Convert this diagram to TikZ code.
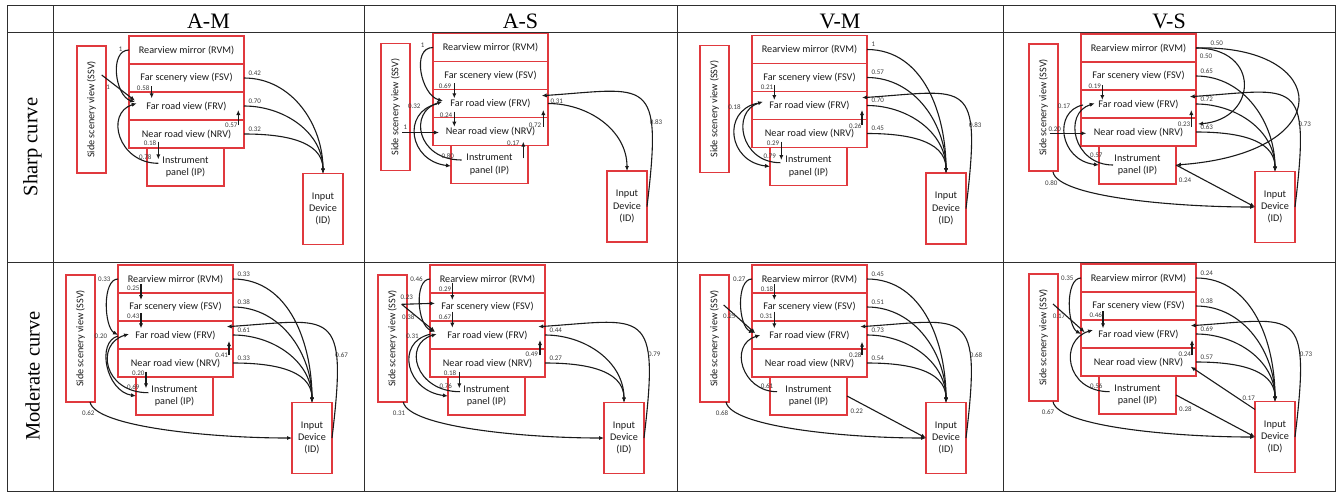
\documentclass[tikz,border=0pt]{standalone}
\usepackage{fontspec}
\setmainfont{Liberation Serif}
\newfontfamily\boxfont{Carlito}
\usepackage{graphicx}
\usetikzlibrary{arrows.meta,positioning,calc}
\definecolor{Ink}{HTML}{1A1A1A}
\definecolor{Rule}{HTML}{2E2E2E}
\definecolor{BoxRed}{HTML}{E0393E}

\tikzset{
  view/.style={draw=BoxRed,line width=1.2pt,minimum width=115pt,minimum height=28pt,
    inner sep=0pt,outer sep=0pt,text=Ink,font=\boxfont\fontsize{10.2}{12.2}\selectfont},
  ipbox/.style={view,minimum width=77pt,minimum height=38pt,align=center},
  idbox/.style={view,minimum width=40pt,minimum height=71pt,align=center},
  ssvbox/.style={view,minimum width=29pt,minimum height=127pt},
  trans/.style={Ink,line width=1.1pt,-{Latex[length=5pt,width=4.2pt]}},
  prob/.style={font=\boxfont\fontsize{7}{8}\selectfont,text=Ink!85,inner sep=0pt},
  prob at/.style 2 args={prob,at start,xshift=#1pt,yshift=#2pt},
  prob end/.style 2 args={prob,at end,xshift=#1pt,yshift=#2pt},
  out lbl/.style={prob at={4}{5},anchor=west},
  rule/.style={Rule,line width=1pt},
  colhead/.style={font=\fontsize{22}{24}\selectfont,anchor=base},
  rowhead/.style={font=\fontsize{20.5}{22}\selectfont,rotate=90},
}

\newcommand{\viewpanel}[3]{%
  \node[view,anchor=north west] (#1-rvm) at (#2,#3) {Rearview mirror (RVM)};
  \node[view,below=0pt of #1-rvm] (#1-fsv) {Far scenery view (FSV)};
  \node[view,below=0pt of #1-fsv] (#1-frv) {Far road view (FRV)};
  \node[view,below=0pt of #1-frv] (#1-nrv) {Near road view (NRV)};
  \node[ipbox,anchor=north west] (#1-ip) at ([xshift=18pt]#1-nrv.south west) {Instrument\\panel (IP)};
  \node[ssvbox] (#1-ssv) at ([xshift=-37.5pt,yshift=-73.5pt]#1-rvm.north west) {\rotatebox{90}{Side scenery view (SSV)}};
  \node[idbox] (#1-id) at ([xshift=194pt,yshift=-173pt]#1-rvm.north west) {Input\\Device\\(ID)};
}

\begin{document}
\begin{tikzpicture}[x=1pt,y=-1pt]
\useasboundingbox (0,0) rectangle (1338,493);
\draw[rule] (7,5) rectangle (1335,491);
\draw[rule] (7,32) -- (1335,32);
\draw[rule] (7,262) -- (1335,262);
\draw[rule] (53,5) -- (53,491);
\draw[rule] (364,5) -- (364,491);
\draw[rule] (677,5) -- (677,491);
\draw[rule] (1003,5) -- (1003,491);
\node[colhead] (head-am) at (208.5,28.3) {A-M};
\node[colhead] (head-as) at (520.5,28.3) {A-S};
\node[colhead] (head-vm) at (840,28.3) {V-M};
\node[colhead] (head-vs) at (1169,28.3) {V-S};
\node[rowhead] (row-sharp) at (32.5,147) {Sharp curve};
\node[rowhead] (row-moderate) at (32.5,376) {Moderate curve};

\viewpanel{sAM}{129}{36}
\draw[trans] (sAM-rvm.west) .. controls +(-20,0) and +(-20,-6) .. ($(sAM-frv.west)+(6,-4)$) node[prob at={-6}{1},anchor=east] {1};
\draw[trans] ($(sAM-ssv.east)+(-4.3,-34.5)$) -- ($(sAM-frv.west)+(6,-5.3)$) node[prob at={6.5}{-12}] {1};
\draw[trans] ($(sAM-fsv.south west)+(22.7,-6)$) -- ($(sAM-frv.north west)+(22.7,6.3)$) node[prob at={-8.5}{-2.5}] {0.58};
\draw[trans] ($(sAM-ip.west)+(11.3,-3.7)$) .. controls +(-40,0) and +(-32,10) .. ($(sAM-frv.west)+(7.7,-2.7)$) node[prob at={-13}{6.5}] {0.78};
\draw[trans] ($(sAM-nrv.south west)+(29.3,-6.3)$) -- ($(sAM-ip.north west)+(11.3,11.3)$) node[prob at={-8.3}{-1.6}] {0.18};
\draw[trans] ($(sAM-nrv.north east)+(-5.7,5)$) -- ($(sAM-frv.south east)+(-5.7,-10)$) node[prob at={-7}{-0.5}] {0.57};
\draw[trans] (sAM-fsv.east) to[out=0,in=90] node[out lbl] {0.42} (sAM-id.north);
\draw[trans] (sAM-frv.east) to[out=0,in=90] node[out lbl] {0.70} (sAM-id.north);
\draw[trans] (sAM-nrv.east) to[out=0,in=90] node[out lbl] {0.32} (sAM-id.north);

\viewpanel{sAS}{433}{33.5}
\draw[trans] (sAS-rvm.west) .. controls +(-22,0) and +(-22,-6) .. ($(sAS-frv.west)+(10,-2.5)$) node[prob at={-8}{1.8},anchor=east] {1};
\draw[trans] ($(sAS-ssv.east)+(-7.7,25.5)$) -- ($(sAS-nrv.west)+(6,1)$) node[prob at={3}{5.5}] {1};
\draw[trans] ($(sAS-fsv.south west)+(21.3,-6.2)$) -- ($(sAS-frv.north west)+(21.3,8.8)$) node[prob at={-9.3}{-2.7}] {0.69};
\draw[trans] ($(sAS-frv.south west)+(21.3,-5.8)$) -- ($(sAS-nrv.north west)+(21.3,9.2)$) node[prob at={-8.3}{-3.3}] {0.24};
\draw[trans] ($(sAS-ip.west)+(10.7,-4.5)$) .. controls +(-45,0) and +(-34,10) .. ($(sAS-frv.west)+(9.3,-1.8)$) node[prob at={-14}{4}] {0.80};
\draw[trans] ($(sAS-frv.west)+(3.7,0.5)$) .. controls +(-35,8) and +(-42,-5) .. ($(sAS-ip.west)+(0,1.5)$) node[prob at={-15.7}{-2},anchor=east] {0.32};
\draw[trans] ($(sAS-nrv.north west)+(110.3,9.2)$) -- ($(sAS-frv.south west)+(110.3,-7.5)$) node[prob at={-8.3}{1.7}] {0.72};
\draw[trans] ($(sAS-ip.north west)+(72.3,12.8)$) -- ($(sAS-nrv.south west)+(90.3,-3.8)$) node[prob end={-10}{-1.6}] {0.17};
\draw[trans] (sAS-frv.east) to[out=0,in=90] node[prob at={2}{1.8},anchor=west] {0.31} (sAS-id.north);
\draw[trans] (sAS-id.east) .. controls +(16,-133) and +(106,-7) .. ($(sAS-frv.east)+(-6.3,-7.8)$) node[prob at={9}{84.3}] {0.83};

\viewpanel{sVM}{752}{35.5}
\draw[trans] (sVM-rvm.east) to[out=0,in=90] node[out lbl] {1} (sVM-id.north);
\draw[trans] (sVM-fsv.east) to[out=0,in=90] node[out lbl] {0.57} (sVM-id.north);
\draw[trans] (sVM-frv.east) to[out=0,in=90] node[out lbl] {0.70} (sVM-id.north);
\draw[trans] (sVM-nrv.east) to[out=0,in=90] node[out lbl] {0.45} (sVM-id.north);
\draw[trans] (sVM-id.east) .. controls +(16,-133) and +(106,-7) .. ($(sVM-frv.east)+(-5,-7.8)$) node[prob at={9.3}{83.5}] {0.83};
\draw[trans] ($(sVM-fsv.south west)+(22.3,-6.5)$) -- ($(sVM-frv.north west)+(22.3,8.5)$) node[prob at={-7.3}{-2.7}] {0.21};
\draw[trans] ($(sVM-nrv.north west)+(110,5.5)$) -- ($(sVM-frv.south west)+(110,-9.5)$) node[prob at={-6.7}{-0.7}] {0.26};
\draw[trans] ($(sVM-nrv.south west)+(29.3,-5.8)$) -- ($(sVM-ip.north west)+(11.3,12.5)$) node[prob at={-8.3}{-1.6}] {0.29};
\draw[trans] ($(sVM-frv.west)+(5,-2.2)$) .. controls +(-35,8) and +(-42,-5) .. (sVM-ip.west) node[prob at={-15.7}{-3.4},anchor=east] {0.18};
\draw[trans] ($(sVM-ip.west)+(10.3,-3.8)$) .. controls +(-40,0) and +(-32,10) .. ($(sVM-frv.west)+(11,-3.8)$) node[prob at={-10.6}{6.7}] {0.79};

\viewpanel{sVS}{1081}{34}
\draw[trans] (sVS-rvm.east) .. controls +(135,-4) and +(165,-12) .. (sVS-ip.east) node[prob at={14}{4.3},anchor=west] {0.50};
\draw[trans] (sVS-rvm.east) .. controls +(65,0) and +(60,-5) .. ($(sVS-nrv.east)+(2,-8)$) node[prob at={3.3}{-8},anchor=west] {0.50};
\draw[trans] (sVS-fsv.east) to[out=0,in=90] node[out lbl] {0.65} (sVS-id.north);
\draw[trans] (sVS-frv.east) to[out=0,in=90] node[out lbl] {0.72} (sVS-id.north);
\draw[trans] (sVS-nrv.east) to[out=0,in=90] node[out lbl] {0.63} (sVS-id.north);
\draw[trans] (sVS-id.east) .. controls +(16,-133) and +(106,-7) .. ($(sVS-frv.east)+(-6.3,-7.3)$) node[prob at={9.7}{82.7}] {0.73};
\draw[trans] ($(sVS-fsv.south west)+(21.3,-5)$) -- ($(sVS-frv.north west)+(21.3,10)$) node[prob at={-7.6}{-1.7}] {0.19};
\draw[trans] ($(sVS-nrv.north west)+(110.3,8.7)$) -- ($(sVS-frv.south west)+(110.3,-8)$) node[prob at={-7.3}{2.4}] {0.23};
\draw[trans] ($(sVS-ssv.east)+(-8.3,25.8)$) -- ($(sVS-nrv.west)+(5.3,1.3)$) node[prob at={5}{4.3}] {0.20};
\draw[trans] ($(sVS-frv.west)+(2,1)$) .. controls +(-30,6) and +(-40,-5) .. (sVS-ip.west) node[prob at={-12.3}{-1},anchor=east] {0.17};
\draw[trans] ($(sVS-ip.west)+(14,0)$) .. controls +(-40,0) and +(-32,10) .. ($(sVS-frv.west)+(13.7,-0.7)$) node[prob at={-16.7}{10}] {0.57};
\draw[trans] (sVS-ip.east) -- (sVS-id.west) node[prob at={9}{-15.6}] {0.24};
\draw[trans] ($(sVS-ssv.south)+(9.5,1)$) .. controls +(5,25) and +(-80,0) .. (sVS-id.west) node[prob at={-1.7}{-11.3}] {0.80};

\viewpanel{mAM}{118}{265}
\draw[trans] (mAM-rvm.west) .. controls +(-16,0) and +(-14,-8) .. (mAM-frv.west) node[prob at={-7}{0},anchor=east] {0.33};
\draw[trans] ($(mAM-frv.west)+(0,1)$) .. controls +(-22,6) and +(-30,-5) .. (mAM-ip.west) node[prob at={-10.3}{0},anchor=east] {0.20};
\draw[trans] ($(mAM-ip.west)+(12.3,-3.3)$) .. controls +(-45,0) and +(-34,10) .. ($(mAM-frv.west)+(11,-1)$) node[prob at={-15}{6}] {0.69};
\draw[trans] ($(mAM-rvm.south west)+(23,-8.7)$) -- ($(mAM-fsv.north west)+(23,7)$) node[prob at={-7.7}{-4}] {0.25};
\draw[trans] ($(mAM-fsv.south west)+(23,-7.7)$) -- ($(mAM-frv.north west)+(23,7.3)$) node[prob at={-7.7}{-3.4}] {0.43};
\draw[trans] ($(mAM-nrv.south west)+(28,-5.3)$) -- ($(mAM-ip.north west)+(10,11.3)$) node[prob at={-7.7}{-1.6}] {0.20};
\draw[trans] ($(mAM-nrv.north west)+(111,6)$) -- ($(mAM-frv.south west)+(111,-8)$) node[prob at={-7.3}{0}] {0.41};
\draw[trans] (mAM-rvm.east) to[out=0,in=90] node[out lbl] {0.33} (mAM-id.north);
\draw[trans] (mAM-fsv.east) to[out=0,in=90] node[out lbl] {0.38} (mAM-id.north);
\draw[trans] (mAM-frv.east) to[out=0,in=90] node[out lbl] {0.61} (mAM-id.north);
\draw[trans] (mAM-nrv.east) to[out=0,in=90] node[out lbl] {0.33} (mAM-id.north);
\draw[trans] (mAM-id.east) .. controls +(16,-133) and +(106,-7) .. ($(mAM-frv.east)+(-6.3,-8.3)$) node[prob at={9.7}{83}] {0.67};
\draw[trans] ($(mAM-ssv.south)+(9.5,0)$) .. controls +(5,25) and +(-80,0) .. (mAM-id.west) node[prob at={-1.7}{-11.6}] {0.62};

\viewpanel{mAS}{430}{265}
\draw[trans] (mAS-rvm.west) .. controls +(-16,0) and +(-18,-6) .. ($(mAS-frv.west)+(5,-3.3)$) node[prob at={-6.7}{0},anchor=east] {0.46};
\draw[trans] ($(mAS-ssv.east)+(-5.3,-34.2)$) -- ($(mAS-fsv.west)+(5,-3.7)$) node[prob at={5}{7}] {0.23};
\draw[trans] ($(mAS-ssv.east)+(-5.3,-34.2)$) -- ($(mAS-frv.west)+(5,-3.3)$) node[prob at={6.6}{-12.7}] {0.38};
\draw[trans] ($(mAS-rvm.south west)+(22.3,-9.7)$) -- ($(mAS-fsv.north west)+(22.3,7)$) node[prob at={-7.3}{-6}] {0.29};
\draw[trans] ($(mAS-fsv.south west)+(22.3,-9.3)$) -- ($(mAS-frv.north west)+(22.3,6.7)$) node[prob at={-7.3}{-5}] {0.67};
\draw[trans] ($(mAS-frv.west)+(0,-0.7)$) .. controls +(-35,8) and +(-42,-5) .. (mAS-ip.west) node[prob at={-10.7}{-1.7},anchor=east] {0.31};
\draw[trans] ($(mAS-ip.west)+(12,-4.3)$) .. controls +(-45,0) and +(-34,10) .. ($(mAS-frv.west)+(6.7,-1)$) node[prob at={-14.3}{5.7}] {0.76};
\draw[trans] ($(mAS-nrv.south west)+(29.3,-4.7)$) -- ($(mAS-ip.north west)+(11.3,11.3)$) node[prob at={-9.3}{-1}] {0.18};
\draw[trans] ($(mAS-nrv.north west)+(110,6)$) -- ($(mAS-frv.south west)+(110,-9)$) node[prob at={-8.3}{0.7}] {0.49};
\draw[trans] (mAS-frv.east) to[out=0,in=90] node[out lbl] {0.44} (mAS-id.north);
\draw[trans] (mAS-nrv.east) to[out=0,in=90] node[out lbl] {0.27} (mAS-id.north);
\draw[trans] (mAS-id.east) .. controls +(16,-133) and +(106,-7) .. ($(mAS-frv.east)+(-6.7,-8.3)$) node[prob at={10.3}{83.7}] {0.79};
\draw[trans] ($(mAS-ssv.south)+(10.8,0)$) .. controls +(5,25) and +(-80,0) .. (mAS-id.west) node[prob at={-4.3}{-11.6}] {0.31};

\viewpanel{mVM}{752}{265}
\draw[trans] (mVM-rvm.west) .. controls +(-16,0) and +(-16,-7) .. ($(mVM-frv.west)+(2,-2)$) node[prob at={-6}{0},anchor=east] {0.27};
\draw[trans] ($(mVM-ssv.east)+(-5.3,-33.5)$) -- ($(mVM-frv.west)+(3.3,-1.7)$) node[prob at={5.6}{-11.7}] {0.25};
\draw[trans] ($(mVM-rvm.south west)+(22.3,-8.7)$) -- ($(mVM-fsv.north west)+(22.3,7)$) node[prob at={-7.3}{-4.7}] {0.18};
\draw[trans] ($(mVM-fsv.south west)+(22.3,-9.3)$) -- ($(mVM-frv.north west)+(22.3,7.3)$) node[prob at={-8}{-5}] {0.31};
\draw[trans] ($(mVM-ip.west)+(7,-4.3)$) .. controls +(-35,0) and +(-32,10) .. ($(mVM-frv.west)+(8.3,0)$) node[prob at={-10}{5.7}] {0.61};
\draw[trans] ($(mVM-nrv.north west)+(110,6)$) -- ($(mVM-frv.south west)+(110,-7.3)$) node[prob at={-6.7}{0}] {0.28};
\draw[trans] (mVM-rvm.east) to[out=0,in=90] node[out lbl] {0.45} (mVM-id.north);
\draw[trans] (mVM-fsv.east) to[out=0,in=90] node[out lbl] {0.51} (mVM-id.north);
\draw[trans] (mVM-frv.east) to[out=0,in=90] node[out lbl] {0.73} (mVM-id.north);
\draw[trans] (mVM-nrv.east) to[out=0,in=90] node[out lbl] {0.54} (mVM-id.north);
\draw[trans] (mVM-id.east) .. controls +(16,-133) and +(106,-7) .. ($(mVM-frv.east)+(-6.7,-8.3)$) node[prob at={10}{83}] {0.68};
\draw[trans] (mVM-ip.east) -- (mVM-id.west) node[prob at={9.7}{-15.6}] {0.22};
\draw[trans] ($(mVM-ssv.south)+(11.5,0)$) .. controls +(5,25) and +(-80,0) .. (mVM-id.west) node[prob at={-4}{-11.6}] {0.68};

\viewpanel{mVS}{1081}{264}
\draw[trans] (mVS-rvm.west) .. controls +(-16,0) and +(-14,-8) .. (mVS-frv.west) node[prob at={-7}{0},anchor=east] {0.35};
\draw[trans] ($(mVS-ssv.east)+(-5,-33.5)$) -- ($(mVS-frv.west)+(3.7,-1.7)$) node[prob at={6}{-12}] {0.17};
\draw[trans] ($(mVS-fsv.south west)+(22,-9)$) -- ($(mVS-frv.north west)+(22,8.3)$) node[prob at={-7.3}{-4}] {0.46};
\draw[trans] ($(mVS-ip.west)+(10.7,-3.3)$) .. controls +(-45,0) and +(-34,10) .. ($(mVS-frv.west)+(12,-4)$) node[prob at={-13.4}{5.7}] {0.56};
\draw[trans] ($(mVS-nrv.north west)+(111,7)$) -- ($(mVS-frv.south west)+(111,-8)$) node[prob at={-7.3}{0.7}] {0.24};
\draw[trans] (mVS-rvm.east) to[out=0,in=90] node[out lbl] {0.24} (mVS-id.north);
\draw[trans] (mVS-fsv.east) to[out=0,in=90] node[out lbl] {0.38} (mVS-id.north);
\draw[trans] (mVS-frv.east) to[out=0,in=90] node[out lbl] {0.69} (mVS-id.north);
\draw[trans] (mVS-nrv.east) to[out=0,in=90] node[out lbl] {0.57} (mVS-id.north);
\draw[trans] (mVS-id.east) .. controls +(16,-133) and +(106,-7) .. ($(mVS-frv.east)+(-5.3,-8.3)$) node[prob at={11}{83}] {0.73};
\draw[trans] ($(mVS-id.north west)+(0,8)$) -- ($(mVS-nrv.east)+(-5.3,4.7)$) node[prob at={-6.3}{11.7}] {0.17};
\draw[trans] (mVS-ip.east) -- (mVS-id.west) node[prob at={9.4}{-14}] {0.28};
\draw[trans] ($(mVS-ssv.south)+(9.5,0.7)$) .. controls +(5,25) and +(-80,0) .. (mVS-id.west) node[prob at={-5}{-10}] {0.67};
\end{tikzpicture}
\end{document}
